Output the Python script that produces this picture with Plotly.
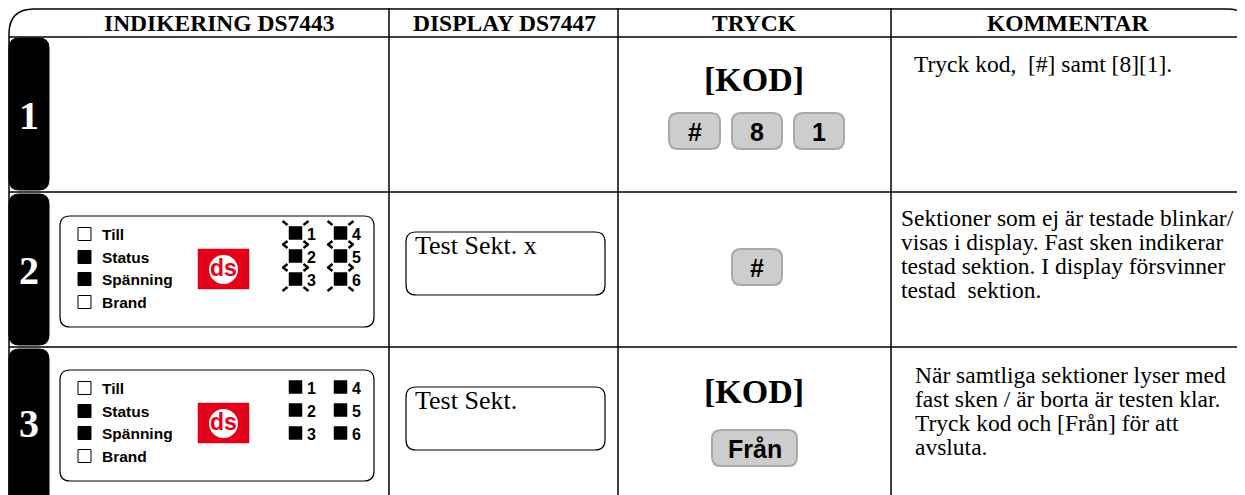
import plotly.graph_objects as go

# ---------------- data ----------------
headers = ["INDIKERING DS7443", "DISPLAY DS7447", "TRYCK", "KOMMENTAR"]
step_numbers = ["1", "2", "3"]
indicator_labels = ["Till", "Status", "Spänning", "Brand"]
indicator_on = {2: [False, True, True, False], 3: [False, True, True, False]}
led_numbers = [["1", "2", "3"], ["4", "5", "6"]]
led_blinking = {2: True, 3: False}
display_texts = {2: "Test Sekt. x", 3: "Test Sekt."}
tryck_code = {1: "[KOD]", 3: "[KOD]"}
tryck_keys = {1: ["#", "8", "1"], 2: ["#"], 3: ["Från"]}
comments = {
    1: ["Tryck kod,  [#] samt [8][1]."],
    2: ["Sektioner som ej är testade blinkar/",
        "visas i display. Fast sken indikerar",
        "testad sektion. I display försvinner",
        "testad  sektion."],
    3: ["När samtliga sektioner lyser med",
        "fast sken / är borta är testen klar.",
        "Tryck kod och [Från] för att",
        "avsluta."],
}

# ---------------- layout constants ----------------
W, H = 1245, 495
PAGE_OFF = 8  # default body margin of the html page
SERIF = "Liberation Serif, Times New Roman, serif"
SANS = "Liberation Sans, Arial, sans-serif"
col_x = [9, 389, 618, 891, 1252]
header_y = (9, 37)
row_y = {1: (37, 192), 2: (192, 347), 3: (347, 500)}
tab_y = {1: (38, 190), 2: (194, 345), 3: (349, 505)}
row_off = {2: 0, 3: 154}

shapes = []
ann = []


def rrect(x0, y0, x1, y1, r):
    return (f"M {x0+r},{y0} L {x1-r},{y0} Q {x1},{y0} {x1},{y0+r} "
            f"L {x1},{y1-r} Q {x1},{y1} {x1-r},{y1} L {x0+r},{y1} "
            f"Q {x0},{y1} {x0},{y1-r} L {x0},{y0+r} Q {x0},{y0} {x0+r},{y0} Z")


def add_path(path, fill="rgba(0,0,0,0)", line="black", lw=1.5):
    shapes.append(dict(type="path", path=path, fillcolor=fill,
                       line=dict(color=line, width=lw), layer="above"))


def add_line(x0, y0, x1, y1, color="black", lw=1.5):
    shapes.append(dict(type="line", x0=x0, y0=y0, x1=x1, y1=y1,
                       line=dict(color=color, width=lw), layer="above"))


def add_rect(x0, y0, x1, y1, fill, line="black", lw=1):
    shapes.append(dict(type="rect", x0=x0, y0=y0, x1=x1, y1=y1, fillcolor=fill,
                       line=dict(color=line, width=lw), layer="above"))


def text(x, y, s, size, family, color="black", bold=False, xanchor="center"):
    ann.append(dict(x=x, y=y, text=f"<b>{s}</b>" if bold else s, showarrow=False,
                    xanchor=xanchor, yanchor="middle",
                    font=dict(size=size, family=family, color=color)))


# outer frame (rounded top corners)
add_path(f"M 9,{H+20} L 9,34 Q 9,9 34,9 L 1227,9 Q 1252,9 1252,34 L 1252,{H+20}",
         lw=1.5)
# header line + row lines
add_line(9, header_y[1], W + 20, header_y[1])
for r in (1, 2):
    add_line(9, row_y[r][1], W + 20, row_y[r][1])
# column lines
for cx in col_x[1:4]:
    add_line(cx, 5, cx, H + 20)

# headers
hdr_centers = [219, 504, 754, 1068]
for h, cx in zip(headers, hdr_centers):
    text(cx, 23, h, 23.5, SERIF, bold=True)

# black step tabs
for i, n in enumerate(step_numbers, start=1):
    y0, y1 = tab_y[i]
    add_path(rrect(9, y0, 49, y1, 10), fill="black", line="black", lw=1)
    text(29, (y0 + min(y1, H)) / 2 + 1, n, 40, SERIF, color="white", bold=True)

# indicator panels (rows 2, 3)
for r in (2, 3):
    o = row_off[r]
    add_path(rrect(60, 216 + o, 374, 328 + o - 1, 10), lw=1.2)
    cb_y = [234, 257, 279, 302]
    for lab, on, cy in zip(indicator_labels, indicator_on[r], cb_y):
        cy += o
        add_rect(78, cy - 6.5, 91, cy + 6.5, "black" if on else "white", lw=1)
        text(100, cy, lab, 15.5, SANS, bold=True, xanchor="left")
    # ds logo
    add_rect(198, 249 + o, 249, 289 + o, "#E3001B", line="#E3001B", lw=0.5)
    shapes.append(dict(type="circle", x0=209, y0=255 + o, x1=238, y1=284 + o,
                       fillcolor="white", line=dict(color="white", width=0),
                       layer="above"))
    text(223.5, 268 + o, "ds", 23, SANS, color="#E3001B", bold=True)
    # LEDs
    led_cx = [295.5, 340.5]
    led_cy = [233, 256, 279]
    for ci, col in enumerate(led_numbers):
        for ri, lab in enumerate(col):
            cx, cy = led_cx[ci], led_cy[ri] + o
            add_rect(cx - 6.5, cy - 6.5, cx + 6.5, cy + 6.5, "black", lw=0.5)
            text(cx + 9.5, cy + 1, lab, 16, SANS, bold=True, xanchor="left")
            if led_blinking[r]:
                for sx in (-1, 1):
                    for sy in (-1, 1):
                        x0 = cx + sx * 8
                        y0 = cy + sy * 8
                        add_line(x0, y0, x0 + sx * 5, y0 + sy * 4, lw=2.5)

# display boxes
for r, s in display_texts.items():
    y0 = {2: 232, 3: 387}[r]
    add_path(rrect(406, y0, 605, y0 + 63, 10), lw=1.2)
    text(413, y0 + 13, s, 26, SERIF, xanchor="left")

# TRYCK column
code_y = {1: 79, 3: 391}
for r, s in tryck_code.items():
    text(754, code_y[r], s, 34, SERIF, bold=True)

key_boxes = {
    1: [(669, 720), (732, 782), (794, 844)],
    2: [(732, 782)],
    3: [(712, 797)],
}
key_y = {1: (113, 149), 2: (249, 285), 3: (430, 466)}
for r, keys in tryck_keys.items():
    ky0, ky1 = key_y[r]
    for k, (kx0, kx1) in zip(keys, key_boxes[r]):
        add_path(rrect(kx0, ky0, kx1, ky1, 9), fill="#CDCDCD", line="#A8A8A8", lw=2)
        text((kx0 + kx1) / 2, (ky0 + ky1) / 2 + 1, k, 25, SANS, bold=True)

# comments
com_x = {1: 912, 2: 899, 3: 913}
com_y = {1: [64], 2: [218, 242, 266, 290], 3: [375, 399, 423, 447]}
for r, lines in comments.items():
    for line, cy in zip(lines, com_y[r]):
        text(com_x[r], cy, line, 23.5, SERIF, xanchor="left")

fig = go.Figure()
fig.update_layout(
    width=W, height=H, margin=dict(l=0, r=0, t=0, b=0),
    paper_bgcolor="white", plot_bgcolor="white",
    xaxis=dict(range=[PAGE_OFF, W + PAGE_OFF], visible=False, fixedrange=True),
    yaxis=dict(range=[H + PAGE_OFF, PAGE_OFF], visible=False, fixedrange=True),
    shapes=shapes, annotations=ann, showlegend=False,
)
fig.write_html("out.html")
